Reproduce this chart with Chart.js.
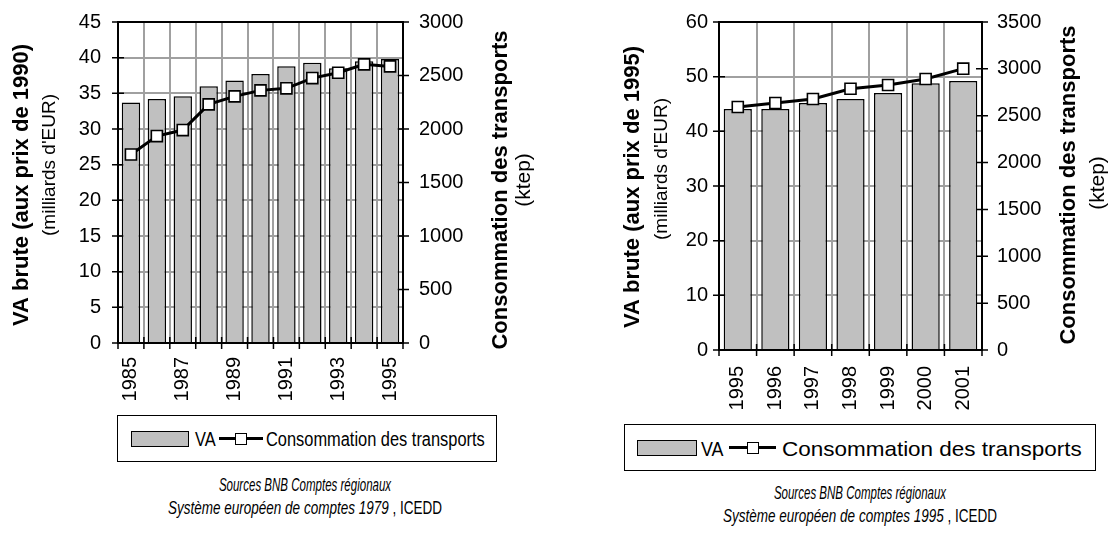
<!DOCTYPE html>
<html>
<head>
<meta charset="utf-8">
<script src="https://cdn.jsdelivr.net/npm/chart.js@4.4.1/dist/chart.umd.min.js"></script>
<style>
  html, body { margin: 0; padding: 0; background: #fff; }
  #page { position: relative; width: 1110px; height: 547px; overflow: hidden;
          font-family: "Liberation Sans", Arial, sans-serif; color: #000; }
  #page canvas { position: absolute; top: 0; }
  .legend { position: absolute; border: 1.5px solid #000; box-sizing: border-box; background: #fff; }
  .nar { position: absolute; white-space: nowrap; line-height: 1; transform-origin: 0 50%; }
  .swBar { position: absolute; background: #c0c0c0; border: 1px solid #000; box-sizing: border-box; }
  .swLine { position: absolute; height: 3px; background: #000; }
  .swPt { position: absolute; background: #fff; border: 1.5px solid #000; box-sizing: border-box; }
  .src { position: absolute; white-space: nowrap; line-height: 1; font-style: italic; transform-origin: 50% 50%; }
  .src .up { font-style: normal; }
</style>
</head>
<body>
<div id="page">
  <canvas id="c1" width="560" height="420" style="left:0;width:560px;height:420px"></canvas>
  <canvas id="c2" width="550" height="420" style="left:560px;width:550px;height:420px"></canvas>
</div>
<script>
// Période 1985-1995 (SEC 1979)
const years1 = ['1985','1986','1987','1988','1989','1990','1991','1992','1993','1994','1995'];
const va1    = [33.7, 34.2, 34.6, 36.0, 36.8, 37.7, 38.8, 39.3, 38.5, 39.5, 39.8];
const cons1  = [1762, 1934, 1990, 2230, 2305, 2361, 2380, 2476, 2526, 2604, 2585];

// Période 1995-2001 (SEC 1995)
const years2 = ['1995','1996','1997','1998','1999','2000','2001'];
const va2    = [44.1, 44.1, 45.2, 45.9, 47.0, 48.8, 49.2];
const cons2  = [2593, 2636, 2678, 2788, 2828, 2892, 3002];

const vaLabel   = 'VA';
const consLabel = 'Consommation des transports';
const leftUnit  = "(milliards d'EUR)";
const rightTitle = 'Consommation des transports';
const rightUnit = '(ktep)';

const FONT = '"Liberation Sans", Arial, sans-serif';
const GRID = '#a0a0a0';

// Tick marks crossing each axis line, drawn under the bars
const crossTicks = {
  id: 'crossTicks',
  beforeDatasetsDraw(chart) {
    const ctx = chart.ctx, a = chart.chartArea;
    const L = 6;
    ctx.save();
    ctx.strokeStyle = '#000';
    ctx.lineWidth = 1.5;
    ctx.beginPath();
    const y = chart.scales.y, y2 = chart.scales.y2, x = chart.scales.x;
    y.ticks.forEach(t => { const p = y.getPixelForValue(t.value); ctx.moveTo(a.left - L, p); ctx.lineTo(a.left + L, p); });
    y2.ticks.forEach(t => { const p = y2.getPixelForValue(t.value); ctx.moveTo(a.right - L, p); ctx.lineTo(a.right + L, p); });
    const n = x.ticks.length, w = (a.right - a.left) / n;
    for (let i = 0; i <= n; i++) { const p = a.left + i * w; ctx.moveTo(p, a.bottom - L); ctx.lineTo(p, a.bottom + L); }
    ctx.stroke();
    ctx.restore();
  }
};

// Two-part rotated axis titles (bold line + regular unit line)
const axisTitles = {
  id: 'axisTitles',
  afterDraw(chart, args, opts) {
    const ctx = chart.ctx;
    ctx.save();
    ctx.fillStyle = '#000';
    ctx.textAlign = 'center';
    ctx.textBaseline = 'middle';
    opts.items.forEach(it => {
      ctx.save();
      ctx.translate(it.x, it.y);
      ctx.rotate(-Math.PI / 2);
      ctx.font = (it.bold ? 'bold ' : '') + it.size + 'px ' + FONT;
      ctx.fillText(it.text, 0, 0);
      ctx.restore();
    });
    ctx.restore();
  }
};

// Invisible tick spacer: keeps label offsets without inflating the top padding
const spacer = len => ({ drawTicks: true, tickLength: len, tickColor: 'rgba(0,0,0,0)' });

function makeChart(id, cfg) {
  return new Chart(document.getElementById(id), {
    data: {
      labels: cfg.labels,
      datasets: [
        {
          type: 'line', label: consLabel, data: cfg.cons, yAxisID: 'y2', order: 0,
          borderColor: '#000', borderWidth: 3, tension: 0,
          pointStyle: 'rect', pointRadius: 7.8, pointBackgroundColor: '#fff',
          pointBorderColor: '#000', pointBorderWidth: 1.6
        },
        {
          type: 'bar', label: vaLabel, data: cfg.va, yAxisID: 'y', order: 1,
          backgroundColor: '#c0c0c0', borderColor: '#000', borderWidth: 1.5,
          barPercentage: cfg.barPct, categoryPercentage: 1
        }
      ]
    },
    options: {
      responsive: false, animation: false,
      layout: { padding: { top: cfg.top, left: 0, right: 0, bottom: 0 } },
      plugins: {
        legend: { display: false }, tooltip: { enabled: false },
        axisTitles: { items: cfg.titles }
      },
      scales: {
        x: {
          type: 'category', offset: true,
          grid: Object.assign({ offset: true, color: GRID, lineWidth: 2 }, spacer(cfg.xPad - 2)),
          border: { display: true, color: '#000', width: 2 },
          ticks: {
            autoSkip: false, minRotation: 90, maxRotation: 90, padding: 2,
            color: '#000', font: { family: FONT, size: 20 },
            callback: (v, i) => (cfg.every2 && i % 2) ? '' : cfg.labels[i]
          },
          afterFit: s => { s.height = cfg.xH; }
        },
        y: {
          position: 'left', min: 0, max: cfg.yMax,
          grid: Object.assign({
            color: c => (c.tick && c.tick.value === cfg.yMax) ? '#000' : GRID,
            lineWidth: 2 }, spacer(cfg.yPad - 2)),
          border: { display: true, color: '#000', width: 2 },
          ticks: { stepSize: cfg.yStep, padding: 2, color: '#000', font: { family: FONT, size: 20 },
                   callback: v => String(v) },
          afterFit: s => { s.width = cfg.yW; }
        },
        y2: {
          position: 'right', min: 0, max: cfg.y2Max,
          grid: Object.assign({ drawOnChartArea: false }, spacer(cfg.y2Pad - 2)),
          border: { display: true, color: '#000', width: 2 },
          ticks: { stepSize: 500, padding: 2, color: '#000', font: { family: FONT, size: 20 },
                   callback: v => String(v) },
          afterFit: s => { s.width = cfg.y2W; }
        }
      }
    },
    plugins: [crossTicks, axisTitles]
  });
}

makeChart('c1', {
  labels: years1, va: va1, cons: cons1, every2: true,
  yMax: 45, yStep: 5, y2Max: 3000, barPct: 0.71,
  top: 22, yW: 118, y2W: 157, xH: 77, xPad: 14, yPad: 17, y2Pad: 16,
  titles: [
    { text: 'VA brute (aux prix de 1990)', bold: true, size: 22, x: 22, y: 185 },
    { text: leftUnit, bold: false, size: 19, x: 50, y: 165 },
    { text: rightTitle, bold: true, size: 22, x: 501, y: 190 },
    { text: rightUnit, bold: false, size: 21, x: 524, y: 180 }
  ]
});

makeChart('c2', {
  labels: years2, va: va2, cons: cons2, every2: false,
  yMax: 60, yStep: 10, y2Max: 3500, barPct: 0.75,
  top: 22, yW: 159, y2W: 128, xH: 70, xPad: 16, yPad: 11, y2Pad: 15,
  titles: [
    { text: 'VA brute (aux prix de 1995)', bold: true, size: 22, x: 73, y: 187 },
    { text: leftUnit, bold: false, size: 19, x: 102, y: 169 },
    { text: rightTitle, bold: true, size: 22, x: 509, y: 185 },
    { text: rightUnit, bold: false, size: 21, x: 538, y: 183 }
  ]
});

// HTML legends and source notes
const page = document.getElementById('page');
function el(cls, style, text) {
  const d = document.createElement('div');
  d.className = cls;
  Object.assign(d.style, style);
  if (text !== undefined) d.textContent = text;
  page.appendChild(d);
  return d;
}
function legend(L) {
  el('legend', { left: L.x + 'px', top: L.y + 'px', width: L.w + 'px', height: L.h + 'px' });
  const cy = L.y + L.h / 2;
  el('swBar', { left: L.sw + 'px', top: (cy - 8) + 'px', width: L.swW + 'px', height: '16px' });
  el('nar', { left: L.va + 'px', top: cy + 'px', fontSize: L.fs + 'px',
              transform: 'translateY(-50%) scaleX(' + L.sxVa + ')' }, vaLabel);
  el('swLine', { left: L.ln + 'px', top: (cy - 1.5) + 'px', width: L.lw + 'px' });
  el('swPt', { left: (L.ln + L.lw / 2 - 6) + 'px', top: (cy - 6) + 'px', width: '12px', height: '12px' });
  el('nar', { left: L.tx + 'px', top: cy + 'px', fontSize: L.fs + 'px',
              transform: 'translateY(-50%) scaleX(' + L.sx + ')' }, consLabel);
}
legend({ x: 117, y: 415, w: 380, h: 47, sw: 131, swW: 58, va: 195, ln: 219, lw: 44, tx: 266,
         fs: 20, sx: 0.82, sxVa: 0.82 });
legend({ x: 624, y: 424, w: 472, h: 47, sw: 637, swW: 60, va: 701, ln: 729, lw: 47, tx: 782,
         fs: 21, sx: 1.07, sxVa: 0.85 });

function source(cx, y1, y2, edition) {
  el('src', { left: cx + 'px', top: y1 + 'px', fontSize: '18px',
              transform: 'translate(-50%, -50%) scaleX(0.64)' }, 'Sources BNB Comptes régionaux');
  const d = el('src', { left: cx + 'px', top: y2 + 'px', fontSize: '18px',
                        transform: 'translate(-50%, -50%) scaleX(0.75)' });
  d.appendChild(document.createTextNode('Système européen de comptes ' + edition + ' '));
  const s = document.createElement('span'); s.className = 'up'; s.textContent = ', ICEDD';
  d.appendChild(s);
}
source(305, 485, 508, '1979');
source(860, 493, 516, '1995');
</script>
</body>
</html>
